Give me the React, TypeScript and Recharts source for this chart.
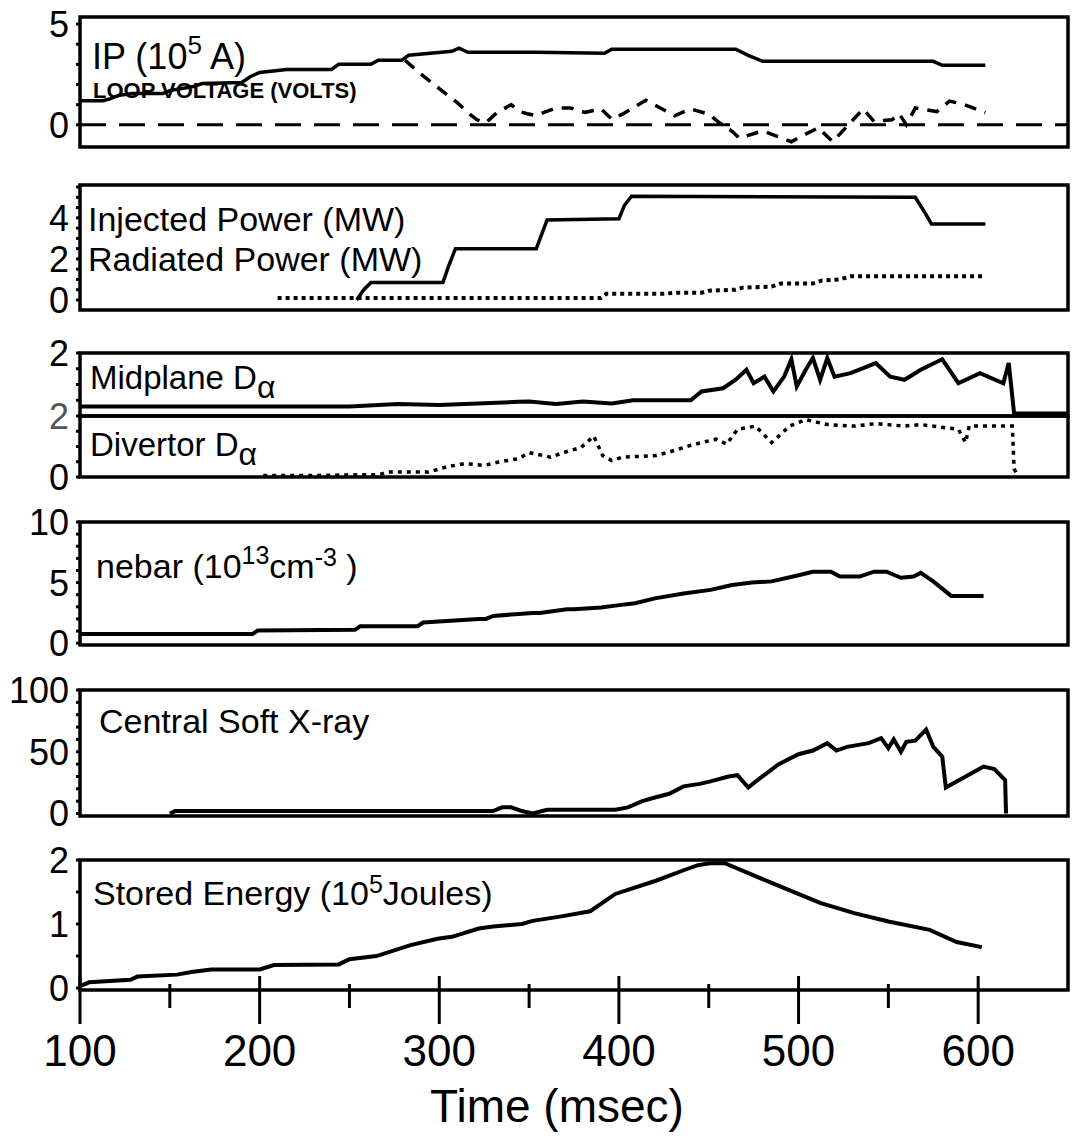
import React from 'react';
import { LineChart, Line, XAxis, YAxis, ReferenceArea, ReferenceLine } from 'recharts';

const FONT = '"Liberation Sans", Arial, Helvetica, sans-serif';
const CHART_W = 1073;
const Y_AXIS_W = 80;
const RIGHT_GAP = 5;

// time axis (msec)
const innerTimeTicks = [150, 200, 250, 300, 350, 400, 450, 500, 550, 600];
const bottomTimeTicks = [100, 150, 200, 250, 300, 350, 400, 450, 500, 550, 600];

// panel 1: plasma current and loop voltage
const ipTime = [100, 113, 117, 121, 129, 146, 150, 163, 168, 190, 195, 200, 215, 240, 244, 262, 266, 279, 283, 295, 307, 311, 316, 354, 392, 396, 465, 472, 480, 575, 580, 604];
const ipValue = [1.2, 1.2, 1.3, 1.45, 1.55, 1.55, 1.7, 1.9, 2.05, 2.1, 2.4, 2.6, 2.75, 2.75, 3.0, 3.0, 3.2, 3.2, 3.45, 3.55, 3.65, 3.8, 3.6, 3.6, 3.55, 3.75, 3.75, 3.45, 3.15, 3.15, 2.95, 2.95];
const loopTime = [281, 290, 300, 310, 318, 321, 326, 332, 340, 345, 349, 354, 358, 365, 373, 381, 390, 396, 402, 415, 431, 440, 450, 456, 463, 467, 480, 496, 503, 511, 519, 536, 542, 552, 556, 560, 565, 577, 584, 592, 604];
const loopValue = [3.2, 2.5, 1.8, 1.1, 0.45, 0.25, 0.1, 0.6, 1.0, 0.65, 0.55, 0.45, 0.6, 0.84, 0.84, 0.62, 0.79, 0.28, 0.53, 1.22, 0.45, 0.79, 0.53, 0.1, -0.32, -0.66, -0.3, -0.84, -0.5, -0.15, -0.84, 0.79, 0.17, 0.25, 0.55, 0.0, 0.84, 0.66, 1.18, 1.01, 0.6];

// panel 2: injected and radiated power
const injTime = [254, 258, 262, 302, 305, 309, 354, 357, 360, 400, 403, 407, 565, 570, 574, 604];
const injValue = [0, 0.5, 0.85, 0.85, 1.6, 2.5, 2.5, 3.2, 3.9, 3.95, 4.6, 5.05, 5.0, 4.3, 3.7, 3.7];
const radTime = [210, 300, 390, 393, 425, 431, 446, 450, 465, 469, 485, 490, 508, 513, 523, 529, 604];
const radValue = [0.1, 0.1, 0.1, 0.3, 0.3, 0.35, 0.35, 0.45, 0.5, 0.6, 0.65, 0.8, 0.8, 0.95, 1.0, 1.15, 1.15];

// panel 3: D-alpha
const midTime = [100, 150, 200, 250, 277, 300, 344, 350, 365, 380, 396, 408, 440, 446, 458, 465, 471, 475, 481, 486, 492, 496, 499, 504, 508, 512, 516, 520, 529, 543, 551, 559, 568, 580, 589, 601, 614, 617, 620, 650];
const midValue = [0.3, 0.3, 0.3, 0.3, 0.38, 0.35, 0.45, 0.46, 0.38, 0.46, 0.4, 0.5, 0.5, 0.78, 0.88, 1.15, 1.47, 1.04, 1.25, 0.78, 1.25, 1.8, 0.94, 1.47, 1.84, 1.15, 1.84, 1.25, 1.36, 1.68, 1.25, 1.15, 1.47, 1.8, 1.04, 1.36, 1.04, 1.68, 0.08, 0.08];
const divTime = [202, 230, 267, 271, 294, 304, 314, 325, 333, 344, 350, 362, 369, 379, 386, 391, 396, 402, 420, 427, 439, 446, 454, 460, 466, 476, 485, 489, 495, 504, 516, 531, 543, 559, 568, 589, 593, 595, 619, 620, 622];
const divValue = [0.05, 0.05, 0.08, 0.16, 0.16, 0.33, 0.44, 0.38, 0.49, 0.6, 0.8, 0.65, 0.8, 0.97, 1.34, 0.7, 0.54, 0.65, 0.7, 0.8, 1.02, 1.13, 1.24, 1.08, 1.56, 1.67, 1.13, 1.34, 1.67, 1.88, 1.72, 1.67, 1.75, 1.67, 1.72, 1.56, 1.13, 1.67, 1.67, 0.27, 0.05];

// panel 4: line density
const neTime = [100, 196, 199, 253, 256, 288, 291, 322, 326, 330, 352, 356, 371, 375, 390, 398, 409, 420, 436, 451, 463, 474, 485, 497, 508, 518, 523, 534, 542, 549, 557, 564, 568, 575, 585, 597, 603];
const neValue = [0.75, 0.75, 1.05, 1.1, 1.4, 1.4, 1.7, 2.0, 2.0, 2.25, 2.5, 2.5, 2.8, 2.8, 2.95, 3.1, 3.3, 3.7, 4.1, 4.4, 4.8, 5.0, 5.1, 5.5, 5.9, 5.9, 5.5, 5.5, 5.9, 5.9, 5.4, 5.5, 5.8, 5.1, 3.9, 3.9, 3.9];

// panel 5: central soft x-ray
const sxTime = [150, 153, 200, 250, 300, 330, 335, 340, 346, 352, 360, 398, 405, 413, 420, 428, 436, 445, 451, 461, 466, 472, 478, 489, 500, 508, 516, 521, 527, 539, 546, 550, 553, 557, 560, 565, 571, 575, 580, 582, 603, 609, 615, 615.5];
const sxValue = [0, 2, 2, 2, 2, 2, 5, 5, 2, 0, 3, 3, 5, 10, 13, 16, 22, 24, 26, 30, 31, 21, 28, 40, 48, 51, 57, 51, 54, 57, 61, 53, 60, 50, 58, 59, 68, 54, 46, 21, 38, 36, 27, 0];

// panel 6: stored energy
const wTime = [100, 105, 128, 132, 154, 162, 173, 200, 208, 244, 250, 265, 284, 299, 307, 322, 330, 346, 352, 368, 384, 398, 421, 436, 444, 451, 459, 486, 512, 531, 550, 573, 588, 602];
const wValue = [0.03, 0.09, 0.13, 0.18, 0.21, 0.25, 0.29, 0.29, 0.36, 0.37, 0.45, 0.5, 0.67, 0.77, 0.8, 0.93, 0.96, 1.0, 1.05, 1.12, 1.2, 1.47, 1.68, 1.84, 1.92, 1.95, 1.95, 1.63, 1.33, 1.17, 1.04, 0.91, 0.72, 0.64];

const pairs = (t: number[], v: number[]) => t.map((x, i) => ({ t: x, v: v[i] }));

type Series = { data: { t: number; v: number }[]; dash?: string; width?: number };

type PanelProps = {
  top: number;
  bottom: number;
  domain: [number, number];
  yTicks: number[];
  yLabels: number[];
  series: Series[];
  bottomAxis?: boolean;
  zeroLine?: boolean;
  fadedLabel?: number;
};

function Panel({ top, bottom, domain, yTicks, yLabels, series, bottomAxis, zeroLine, fadedLabel }: PanelProps) {
  const mt = 24;
  const mb = bottomAxis ? 0 : 26;
  const xh = bottomAxis ? 150 : 0;
  const height = mt + (bottom - top) + xh + mb;

  const renderXTick = (props: any) => {
    const { x, y, payload } = props;
    const v = payload.value as number;
    const major = v % 100 === 0;
    if (bottomAxis) {
      return (
        <g>
          <line x1={x} x2={x} y1={y - (major ? 14 : 6)} y2={y + (major ? 34 : 18)} stroke="#000" strokeWidth={3} />
          {major && (
            <text x={x} y={y + 76} textAnchor="middle" fontSize={44} fontFamily={FONT} fill="#000">
              {v}
            </text>
          )}
        </g>
      );
    }
    return <line x1={x} x2={x} y1={y - (major ? 12 : 5)} y2={y} stroke="#000" strokeWidth={3} />;
  };

  const renderYTick = (props: any) => {
    const { x, y, payload } = props;
    const v = payload.value as number;
    const labeled = yLabels.includes(v);
    return (
      <g>
        <line x1={x - 4} x2={x} y1={y} y2={y} stroke="#000" strokeWidth={3} />
        {labeled && (
          <text x={x - 11} y={y} dy="0.36em" textAnchor="end" fontSize={36} fontFamily={FONT}
            fill={fadedLabel === v ? '#555' : '#000'}>
            {v}
          </text>
        )}
      </g>
    );
  };

  return (
    <div style={{ position: 'absolute', left: 0, top: top - mt }}>
      <LineChart width={CHART_W} height={height} margin={{ top: mt, right: RIGHT_GAP, left: 0, bottom: mb }}>
        <XAxis
          dataKey="t"
          type="number"
          domain={[100, 650]}
          allowDataOverflow
          ticks={bottomAxis ? bottomTimeTicks : innerTimeTicks}
          interval={0}
          tick={renderXTick}
          tickSize={0}
          tickMargin={0}
          tickLine={false}
          axisLine={false}
          height={xh}
        />
        <YAxis
          type="number"
          domain={domain}
          allowDataOverflow
          ticks={yTicks}
          interval={0}
          tick={renderYTick}
          tickSize={0}
          tickMargin={0}
          tickLine={false}
          axisLine={false}
          width={Y_AXIS_W}
        />
        {zeroLine && <ReferenceLine y={0} stroke="#000" strokeWidth={3} strokeDasharray="26 13" />}
        {series.map((s, i) => (
          <Line
            key={i}
            data={s.data}
            dataKey="v"
            type="linear"
            stroke="#000"
            strokeWidth={s.width ?? 3.5}
            strokeDasharray={s.dash}
            dot={false}
            activeDot={false}
            isAnimationActive={false}
          />
        ))}
        <ReferenceArea x1={100} x2={650} y1={domain[0]} y2={domain[1]} fill="none" stroke="#000" strokeWidth={3.5} ifOverflow="visible" />
      </LineChart>
    </div>
  );
}

function Labels() {
  const t = { fontFamily: FONT, fill: '#000' } as const;
  return (
    <svg width={CHART_W} height={1141} style={{ position: 'absolute', left: 0, top: 0, pointerEvents: 'none' }}>
      <text x={92} y={69} fontSize={36} {...t}>
        IP (10<tspan dy={-15} fontSize={26}>5</tspan>
        <tspan dy={15}> A)</tspan>
      </text>
      <text x={93} y={98} fontSize={22} fontWeight="bold" {...t}>LOOP VOLTAGE (VOLTS)</text>
      <text x={88} y={231} fontSize={34} {...t}>Injected Power (MW)</text>
      <text x={88} y={271} fontSize={34} {...t}>Radiated Power (MW)</text>
      <text x={90} y={389} fontSize={33} {...t}>
        Midplane D<tspan dy={9} fontSize={32}>α</tspan>
      </text>
      <text x={90} y={456} fontSize={33} {...t}>
        Divertor D<tspan dy={9} fontSize={32}>α</tspan>
      </text>
      <text x={96} y={578} fontSize={34} {...t}>
        nebar (10<tspan dy={-14} fontSize={25}>13</tspan>
        <tspan dy={14}>cm</tspan>
        <tspan dy={-12} fontSize={25}>-3</tspan>
        <tspan dy={12}> )</tspan>
      </text>
      <text x={99} y={733} fontSize={34} {...t}>Central Soft X-ray</text>
      <text x={93} y={905} fontSize={34} {...t}>
        Stored Energy (10<tspan dy={-12} fontSize={25}>5</tspan>
        <tspan dy={12}>Joules)</tspan>
      </text>
      <text x={557} y={1122} fontSize={46} textAnchor="middle" {...t}>Time (msec)</text>
    </svg>
  );
}

export default function App() {
  return (
    <div style={{ position: 'absolute', left: 0, top: 0, width: CHART_W, height: 1141, background: '#fff' }}>
      <Panel
        top={17}
        bottom={147}
        domain={[-1.1, 5.35]}
        yTicks={[0, 1, 2, 3, 4, 5]}
        yLabels={[0, 5]}
        zeroLine
        series={[
          { data: pairs(ipTime, ipValue) },
          { data: pairs(loopTime, loopValue), dash: '12 9' },
        ]}
      />
      <Panel
        top={185}
        bottom={310}
        domain={[-0.49, 5.6]}
        yTicks={[0, 0.5, 1, 1.5, 2, 2.5, 3, 3.5, 4, 4.5, 5, 5.5]}
        yLabels={[0, 2, 4]}
        series={[
          { data: pairs(injTime, injValue) },
          { data: pairs(radTime, radValue), dash: '4 4', width: 4 },
        ]}
      />
      <Panel
        top={353}
        bottom={416}
        domain={[0, 2]}
        yTicks={[0.5, 1, 1.5, 2]}
        yLabels={[2]}
        series={[{ data: pairs(midTime, midValue), width: 4 }]}
      />
      <Panel
        top={416}
        bottom={477}
        domain={[0, 2]}
        yTicks={[0, 0.5, 1, 1.5, 2]}
        yLabels={[0, 2]}
        fadedLabel={2}
        series={[{ data: pairs(divTime, divValue), dash: '4 5', width: 3.5 }]}
      />
      <Panel
        top={522}
        bottom={645}
        domain={[-0.15, 10]}
        yTicks={[0, 1, 2, 3, 4, 5, 6, 7, 8, 9, 10]}
        yLabels={[0, 5, 10]}
        series={[{ data: pairs(neTime, neValue), width: 4 }]}
      />
      <Panel
        top={690}
        bottom={816}
        domain={[-2, 100]}
        yTicks={[0, 10, 20, 30, 40, 50, 60, 70, 80, 90, 100]}
        yLabels={[0, 50, 100]}
        series={[{ data: pairs(sxTime, sxValue), width: 4 }]}
      />
      <Panel
        top={860}
        bottom={990}
        domain={[-0.03, 2]}
        yTicks={[0, 0.5, 1, 1.5, 2]}
        yLabels={[0, 1, 2]}
        bottomAxis
        series={[{ data: pairs(wTime, wValue), width: 4 }]}
      />
      <Labels />
    </div>
  );
}
